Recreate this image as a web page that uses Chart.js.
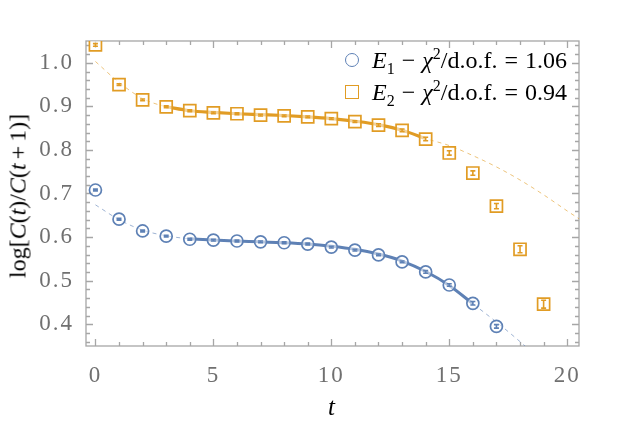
<!DOCTYPE html>
<html lang="en">
<head>
    <meta charset="UTF-8">
    <title>log C(t)/C(t+1)</title>
    <script src="https://cdn.jsdelivr.net/npm/chart.js"></script>
    <style>
        html, body { margin: 0; padding: 0; background: #fff; }
        .wrap { position: relative; width: 623px; height: 431px; font-family: "Liberation Serif", "DejaVu Serif", serif; }
        .ytitle {
            position: absolute; left: 18px; top: 196px;
            transform: translate(-50%, -50%) rotate(-90deg);
            font-size: 24px; white-space: nowrap; color: #000;
        }
        .ytitle .op { margin: 0 4px; }
        .legend { position: absolute; left: 345px; top: 44px; font-size: 24px; color: #000; }
        .legend .row { height: 32px; line-height: 32px; white-space: nowrap; }
        .legend .mk { display: inline-block; width: 12px; height: 12px; border: 1.6px solid; margin-right: 13px; vertical-align: 1px; }
        .legend .op { margin: 0 7px; }
        sub, sup { font-size: 16px; line-height: 0; }
        i { font-style: italic; }
    </style>
</head>
<body>
    <div class="wrap">
        <canvas id="ratioChart"></canvas>
        <div class="ytitle">log[<i>C</i>(<i>t</i>)/<i>C</i>(<i>t</i><span class="op">+</span>1)]</div>
        <div class="legend">
            <div class="row"><span class="mk" style="border-color:#5e81b5;border-radius:50%"></span><i>E</i><sub>1</sub><span class="op">&minus;</span><i>&chi;</i><sup>2</sup>/d.o.f.<span class="op">=</span>1.06</div>
            <div class="row"><span class="mk" style="border-color:#e19c24"></span><i>E</i><sub>2</sub><span class="op">&minus;</span><i>&chi;</i><sup>2</sup>/d.o.f.<span class="op">=</span>0.94</div>
        </div>
    </div>
    <script>
        // measured points
        const tE1 = [0, 1, 2, 3, 4, 5, 6, 7, 8, 9, 10, 11, 12, 13, 14, 15, 16, 17];
        const e1Vals = [0.708, 0.641, 0.614, 0.602, 0.595, 0.593, 0.591, 0.589, 0.587, 0.584, 0.577, 0.570, 0.559, 0.543, 0.520, 0.490, 0.448, 0.395];
        const e1Err = [0.002, 0.002, 0.002, 0.002, 0.002, 0.002, 0.002, 0.002, 0.002, 0.002, 0.002, 0.002, 0.002, 0.002, 0.003, 0.003, 0.004, 0.004];

        const tE2 = [0, 1, 2, 3, 4, 5, 6, 7, 8, 9, 10, 11, 12, 13, 14, 15, 16, 17, 18, 19];
        const e2Vals = [1.041, 0.950, 0.915, 0.899, 0.890, 0.885, 0.883, 0.880, 0.878, 0.876, 0.872, 0.865, 0.857, 0.845, 0.825, 0.793, 0.747, 0.671, 0.572, 0.446];
        const e2Err = [0.003, 0.002, 0.002, 0.002, 0.002, 0.002, 0.002, 0.002, 0.002, 0.002, 0.002, 0.002, 0.003, 0.003, 0.004, 0.005, 0.005, 0.006, 0.008, 0.009];

        // fit curves (dashed over the whole range, solid over the fit window)
        const fitT1 = [0, 1, 2, 3, 4, 5, 6, 7, 8, 9, 10, 11, 12, 13, 14, 15, 16, 17, 18, 18.5];
        const fit1 = [0.674, 0.640, 0.616, 0.603, 0.596, 0.593, 0.591, 0.589, 0.587, 0.584, 0.579, 0.572, 0.561, 0.545, 0.521, 0.489, 0.447, 0.405, 0.360, 0.336];
        const fitWin1 = [4, 16];

        const fitT2 = [0, 1, 2, 3, 4, 5, 6, 7, 8, 9, 10, 11, 12, 13, 14, 15, 16, 17, 18, 19, 20, 20.5];
        const fit2 = [1.003, 0.955, 0.918, 0.899, 0.890, 0.886, 0.883, 0.881, 0.879, 0.876, 0.872, 0.866, 0.858, 0.845, 0.826, 0.810, 0.787, 0.761, 0.731, 0.697, 0.660, 0.642];
        const fitWin2 = [3, 14];

        const xTicks = [0, 5, 10, 15, 20];
        const yTicks = [0.4, 0.5, 0.6, 0.7, 0.8, 0.9, 1.0];

        const blue = '#5e81b5';
        const orange = '#e19c24';
        const serif = '"Liberation Serif", "DejaVu Serif", serif';

        const pts = (xs, ys) => xs.map((x, i) => ({ x: x, y: ys[i] }));
        const win = (xs, ys, w) => pts(xs, ys).filter(p => p.x >= w[0] && p.x <= w[1]);

        // wider tick-label spacing, closer to the TeX-looking original
        const spacingPlugin = {
            id: 'spacing',
            beforeDraw(chart) { chart.ctx.letterSpacing = '2px'; }
        };

        // frame with inward ticks, like the original
        const framePlugin = {
            id: 'frame',
            beforeDatasetsDraw(chart) {
                const { ctx, chartArea: a, scales: { x, y } } = chart;
                ctx.save();
                ctx.strokeStyle = '#a6a6a6';
                ctx.lineWidth = 1.3;
                ctx.strokeRect(a.left, a.top, a.right - a.left, a.bottom - a.top);
                ctx.beginPath();
                for (let t = 0; t <= 20; t++) {
                    const px = Math.round(x.getPixelForValue(t)) + 0.5;
                    const len = t % 5 === 0 ? 7 : 4;
                    ctx.moveTo(px, a.bottom); ctx.lineTo(px, a.bottom - len);
                    ctx.moveTo(px, a.top); ctx.lineTo(px, a.top + len);
                }
                for (let k = 18; k <= 52; k++) {
                    const v = k * 0.02;
                    const py = Math.round(y.getPixelForValue(v)) + 0.5;
                    const len = k % 5 === 0 ? 7 : 4;
                    ctx.moveTo(a.left, py); ctx.lineTo(a.left + len, py);
                    ctx.moveTo(a.right, py); ctx.lineTo(a.right - len, py);
                }
                ctx.stroke();
                ctx.restore();
            }
        };

        // error bars on the measured points
        const errPlugin = {
            id: 'errbars',
            afterDatasetsDraw(chart) {
                const { ctx, scales: { x, y } } = chart;
                const sets = [[tE1, e1Vals, e1Err, blue], [tE2, e2Vals, e2Err, orange]];
                ctx.save();
                ctx.lineWidth = 1.6;
                sets.forEach(([ts, vs, es, col]) => {
                    ctx.strokeStyle = col;
                    ts.forEach((t, i) => {
                        const px = x.getPixelForValue(t);
                        const y0 = y.getPixelForValue(vs[i] - es[i]);
                        const y1 = y.getPixelForValue(vs[i] + es[i]);
                        ctx.beginPath();
                        ctx.moveTo(px, y0); ctx.lineTo(px, y1);
                        ctx.moveTo(px - 2.5, y0); ctx.lineTo(px + 2.5, y0);
                        ctx.moveTo(px - 2.5, y1); ctx.lineTo(px + 2.5, y1);
                        ctx.stroke();
                    });
                });
                ctx.restore();
            }
        };

        const ctx = document.getElementById('ratioChart').getContext('2d');
        new Chart(ctx, {
            type: 'scatter',
            data: {
                datasets: [
                    {
                        label: 'E1',
                        data: pts(tE1, e1Vals),
                        pointStyle: 'circle',
                        pointRadius: 6,
                        borderColor: blue,
                        borderWidth: 1.7,
                        backgroundColor: 'rgba(255,255,255,0.55)'
                    },
                    {
                        label: 'E2',
                        data: pts(tE2, e2Vals),
                        pointStyle: 'rect',
                        pointRadius: 8.5,
                        borderColor: orange,
                        borderWidth: 1.7,
                        backgroundColor: 'rgba(255,255,255,0.55)'
                    },
                    {
                        label: 'fit1',
                        type: 'line',
                        data: win(fitT1, fit1, fitWin1),
                        borderColor: blue,
                        borderWidth: 3,
                        pointRadius: 0,
                        cubicInterpolationMode: 'monotone',
                        fill: false
                    },
                    {
                        label: 'fit2',
                        type: 'line',
                        data: win(fitT2, fit2, fitWin2),
                        borderColor: orange,
                        borderWidth: 3.2,
                        pointRadius: 0,
                        cubicInterpolationMode: 'monotone',
                        fill: false
                    },
                    {
                        label: 'ext1',
                        type: 'line',
                        data: pts(fitT1, fit1),
                        borderColor: 'rgba(94,129,181,0.6)',
                        borderWidth: 1,
                        borderDash: [4, 4],
                        pointRadius: 0,
                        cubicInterpolationMode: 'monotone',
                        fill: false
                    },
                    {
                        label: 'ext2',
                        type: 'line',
                        data: pts(fitT2, fit2),
                        borderColor: 'rgba(225,156,36,0.6)',
                        borderWidth: 1,
                        borderDash: [4, 4],
                        pointRadius: 0,
                        cubicInterpolationMode: 'monotone',
                        fill: false
                    }
                ]
            },
            options: {
                responsive: true,
                maintainAspectRatio: false,
                animation: false,
                layout: { padding: { top: 41, right: 44, left: 0, bottom: 0 } },
                plugins: {
                    legend: { display: false },
                    tooltip: { enabled: false }
                },
                scales: {
                    x: {
                        type: 'linear',
                        min: -0.4,
                        max: 20.5,
                        afterBuildTicks: s => { s.ticks = xTicks.map(v => ({ value: v })); },
                        afterFit: s => { s.height = 85; },
                        grid: { display: false },
                        border: { display: false },
                        ticks: {
                            color: '#707070',
                            padding: 8,
                            font: { family: serif, size: 23 }
                        },
                        title: {
                            display: true,
                            text: 't',
                            color: '#000',
                            padding: { top: 0, bottom: 8 },
                            font: { family: serif, size: 25, style: 'italic' }
                        }
                    },
                    y: {
                        min: 0.35,
                        max: 1.05,
                        afterBuildTicks: s => { s.ticks = yTicks.map(v => ({ value: v })); },
                        afterFit: s => { s.width = 86; },
                        grid: { display: false },
                        border: { display: false },
                        ticks: {
                            color: '#707070',
                            padding: 4,
                            font: { family: serif, size: 23 },
                            callback: v => v.toFixed(1)
                        }
                    }
                }
            },
            plugins: [spacingPlugin, framePlugin, errPlugin]
        });
    </script>
</body>
</html>
